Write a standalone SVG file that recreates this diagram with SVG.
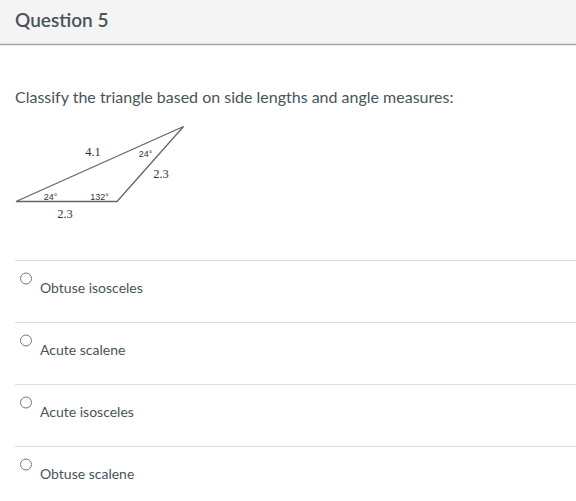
<svg xmlns="http://www.w3.org/2000/svg" width="576" height="501" viewBox="0 0 576 501">
<style>
.hdr{font-family:Lato,"Liberation Sans",sans-serif;font-size:19px;font-weight:600;fill:#4a5359}
.q{font-family:Lato,"Liberation Sans",sans-serif;font-size:16px;fill:#4a5359}
.opt{font-family:Lato,"Liberation Sans",sans-serif;font-size:14px;fill:#4a5359}
.sep{stroke:#dcdcdc;stroke-width:1}
.radio{fill:#fff;stroke:#777;stroke-width:1}
.lbl{font-family:"Liberation Serif",serif;font-size:12.5px;fill:#333}
.ang{font-family:"Liberation Sans",sans-serif;font-size:9px;fill:#333}
</style>
<rect x="0" y="0" width="576" height="501" fill="#fff"/>
<g id="header">
<rect x="0" y="0" width="576" height="44" fill="#f4f4f4"/>
<line x1="0" y1="44.5" x2="576" y2="44.5" stroke="#a8a8a8" stroke-width="1.5"/>
<text class="hdr" x="15" y="27">Question 5</text>
</g>
<text class="q" x="15" y="103">Classify the triangle based on side lengths and angle measures:</text>
<g id="triangle">
<polygon points="16,201.5 117,201.5 183.5,126.5" fill="none" stroke="#666" stroke-width="1.3" stroke-linejoin="miter"/>
<text class="lbl" x="93" y="156" text-anchor="middle">4.1</text>
<text class="ang" x="145.5" y="156.5" text-anchor="middle">24°</text>
<text class="lbl" x="161" y="178" text-anchor="middle">2.3</text>
<text class="ang" x="50.5" y="199.5" text-anchor="middle">24°</text>
<text class="ang" x="99.5" y="199.5" text-anchor="middle">132°</text>
<text class="lbl" x="65" y="218" text-anchor="middle">2.3</text>
</g>
<g id="options">
<line class="sep" x1="15" y1="260.5" x2="576" y2="260.5"/>
<line class="sep" x1="15" y1="322.5" x2="576" y2="322.5"/>
<line class="sep" x1="15" y1="384.5" x2="576" y2="384.5"/>
<line class="sep" x1="15" y1="446.5" x2="576" y2="446.5"/>
<g id="opt1"><circle class="radio" cx="26" cy="278.5" r="5.5"/><text class="opt" x="40" y="293">Obtuse isosceles</text></g>
<g id="opt2"><circle class="radio" cx="26" cy="340.5" r="5.5"/><text class="opt" x="40" y="355">Acute scalene</text></g>
<g id="opt3"><circle class="radio" cx="26" cy="402.5" r="5.5"/><text class="opt" x="40" y="417">Acute isosceles</text></g>
<g id="opt4"><circle class="radio" cx="26" cy="464.5" r="5.5"/><text class="opt" x="40" y="479">Obtuse scalene</text></g>
</g>
</svg>
